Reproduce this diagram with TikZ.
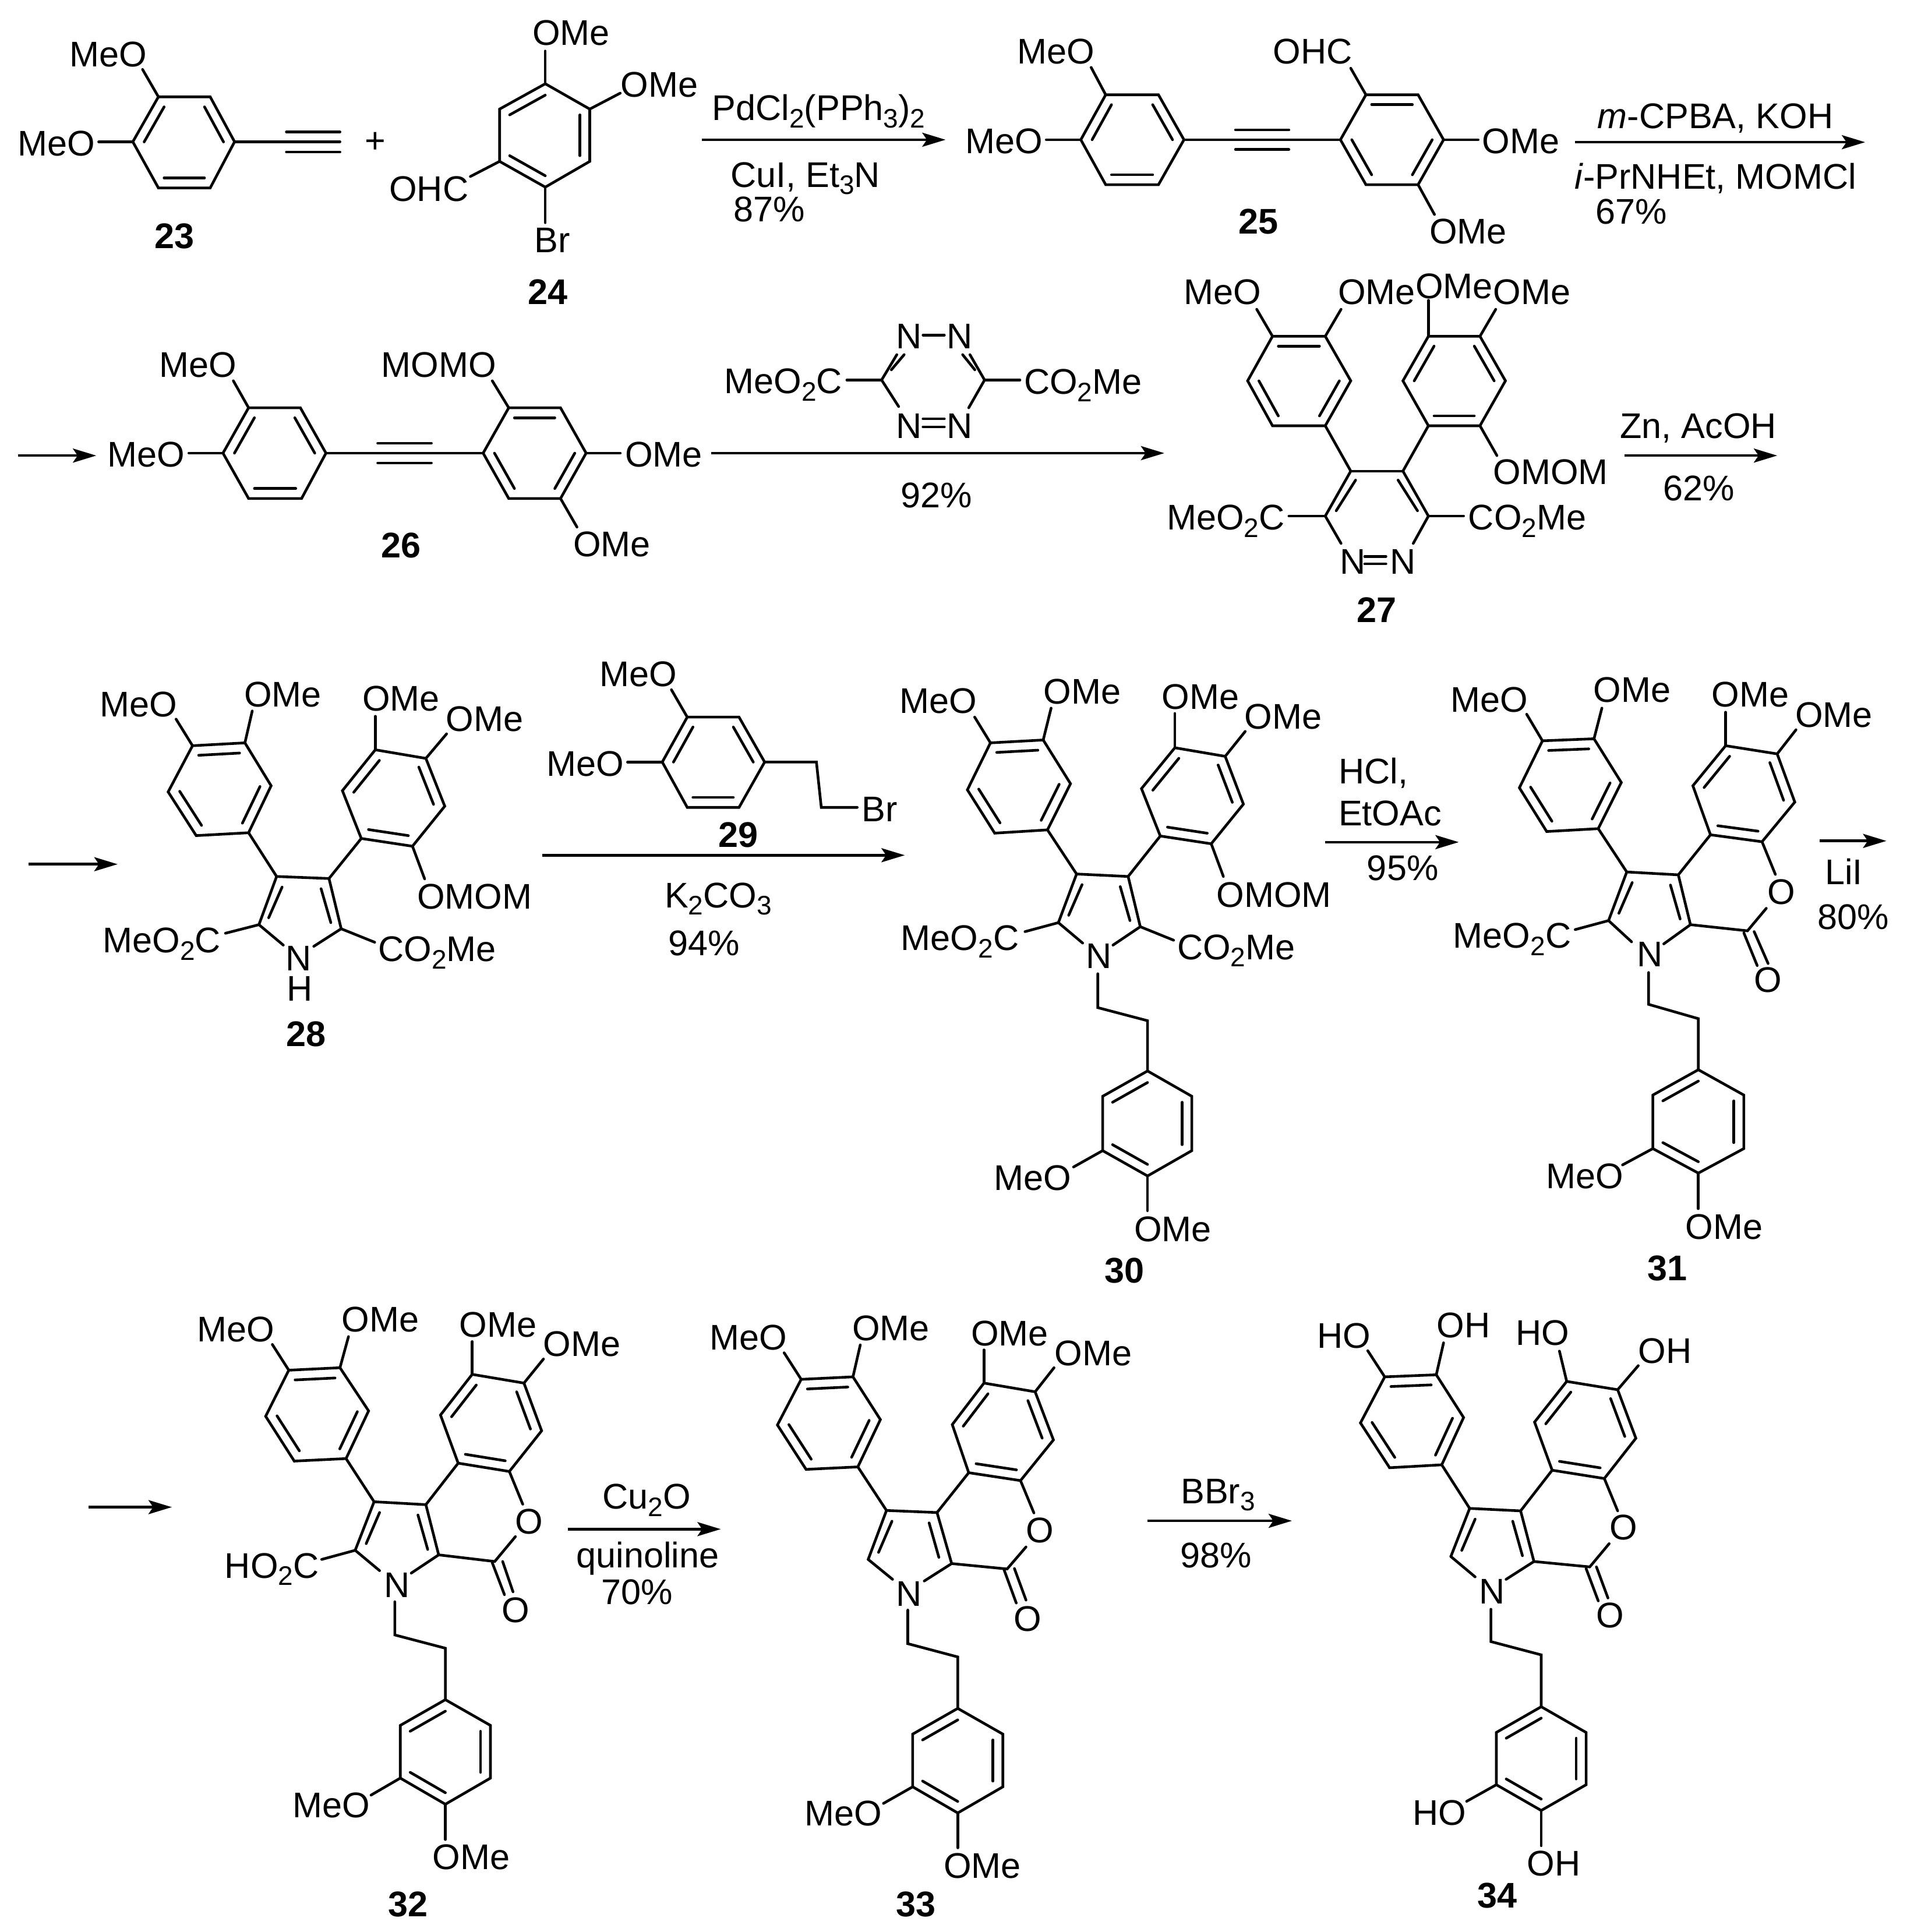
\documentclass[tikz,border=0pt]{standalone}
\usepackage{fontspec}
\setmainfont{Liberation Sans}
\usetikzlibrary{calc,arrows.meta}
\newcount\labn
\newcommand\sbs[1]{\raisebox{-6.3pt}{\fontsize{23}{23}\selectfont #1}}
\newcommand\lab[2]{\global\advance\labn by 1 \node[lbl] (n\the\labn) at (#1) {#2};}
\newcommand\B[2]{\draw[bond] (#1) -- (#2);}
\newcommand\Ar[2]{\draw[arr] (#1) -- (#2);}
\newcommand\Ring[7]{%
  \coordinate (R1) at (#1);\coordinate (R2) at (#2);\coordinate (R3) at (#3);
  \coordinate (R4) at (#4);\coordinate (R5) at (#5);\coordinate (R6) at (#6);
  \coordinate (RC) at ($(R1)!.5!(R4)$);
  \draw[bond] (R1)--(R2)--(R3)--(R4)--(R5)--(R6)--cycle;
  \foreach \pa/\pb in {#7} \draw[bond] ($(R\pa)!.22!(RC)$) -- ($(R\pb)!.22!(RC)$);
}
% inner lines of the two pyrrole double bonds, given the two beta carbons
\newcommand\PyrIn[2]{%
  \draw[bond] (#1) ++(9,26) -- ++(-22,75);
  \draw[bond] (#2) ++(-13,25) -- ++(16,83);
}
\tikzset{
  bond/.style={line width=2.3pt,line join=miter,line cap=round},
  arr/.style={line width=2.3pt,-{Stealth[length=20pt,width=12pt,inset=4pt]}},
  lbl/.style={anchor=base west,inner sep=0pt,xshift=-.8pt,font=\fontsize{30.6}{31}\selectfont},
  cA/.style={shift={(0pt,0pt)},x=.523pt,y=-.35075pt},
  cB/.style={shift={(820pt,0pt)},x=.5207pt,y=-.35075pt},
  cC/.style={shift={(0pt,-550pt)},x=.523pt,y=-.35075pt},
  cD/.style={shift={(820pt,-550pt)},x=.5207pt,y=-.35075pt},
  cE/.style={shift={(0pt,-1100pt)},x=.523pt,y=-.3562pt},
  cF/.style={shift={(820pt,-1100pt)},x=.5207pt,y=-.3562pt},
}
\begin{document}
\begin{tikzpicture}
\fill[white] (0pt,0pt) rectangle (1636.5pt,-1658.5pt);
\useasboundingbox (0pt,0pt) rectangle (1636.5pt,-1658.5pt);

%% ---------- crop A: 23, 24, 26, tetrazine
\begin{scope}[cA]
\Ring{260,237}{345,237}{385,347}{345,460}{260,460}{218,347}{6/1,2/3,4/5}
\lab{115,163}{MeO} \B{260,237}{234,170}
\lab{30,381}{MeO} \B{218,347}{162,347}
\B{385,347}{558,347} \B{470,323}{558,323} \B{470,372}{558,372}
\lab{255,608}{\textbf{23}}
\node[lbl,anchor=center] (plus) at (618,349) {+};
\Ring{895,205}{968,267}{968,395}{895,458}{820,395}{820,267}{6/1,2/3,4/5}
\lab{875,110}{OMe} \B{895,205}{895,125}
\lab{1020,238}{OMe} \B{968,267}{1018,228}
\lab{640,492}{OHC} \B{820,395}{772,432}
\lab{878,618}{Br} \B{895,458}{895,545}
\lab{868,745}{\textbf{24}}
\Ar{1152,342}{1552,342}
\lab{1170,295}{PdCl\sbs{2}(PPh\sbs{3})\sbs{2}}
\lab{1200,458}{CuI, Et\sbs{3}N}
\lab{1205,542}{87\%}
% 26
\Ar{30,1115}{158,1115}
\Ring{408,998}{493,998}{535,1109}{495,1220}{408,1220}{366,1109}{6/1,2/3,4/5}
\lab{178,1143}{MeO} \B{366,1109}{310,1109}
\lab{263,923}{MeO} \B{408,998}{383,932}
\B{535,1109}{793,1109} \B{620,1085}{708,1085} \B{620,1133}{708,1133}
\Ring{793,1109}{835,998}{920,998}{962,1109}{920,1220}{835,1220}{2/3,4/5,6/1}
\lab{627,923}{MOMO} \B{835,998}{808,932}
\lab{1027,1143}{OMe} \B{962,1109}{1018,1109}
\lab{942,1362}{OMe} \B{920,1220}{947,1290}
\lab{627,1365}{\textbf{26}}
% tetrazine
\lab{1472,853}{N} \lab{1555,853}{N} \B{1515,820}{1550,820}
\lab{1472,1072}{N} \lab{1555,1072}{N}
\B{1515,1025}{1550,1025} \B{1515,1045}{1550,1045}
\B{1447,930}{1472,868} \B{1463,905}{1484,868}
\B{1447,930}{1475,995}
\B{1616,930}{1592,868} \B{1600,905}{1580,868}
\B{1616,930}{1590,998}
\lab{1190,963}{MeO\sbs{2}C} \B{1390,930}{1447,930}
\lab{1682,965}{CO\sbs{2}Me} \B{1616,930}{1674,930}
\Ar{1167,1109}{1911,1109}
\lab{1480,1242}{92\%}
\end{scope}

%% ---------- crop B: 25, 27
\begin{scope}[cB]
\Ring{248,232}{335,232}{377,342}{335,452}{248,452}{207,342}{6/1,2/3,4/5}
\lab{103,156}{MeO} \B{248,232}{224,165}
\lab{18,376}{MeO} \B{207,342}{150,342}
\B{377,342}{635,342} \B{462,318}{550,318} \B{462,366}{550,366}
\Ring{635,342}{677,232}{763,232}{805,342}{763,452}{677,452}{2/3,4/5,6/1}
\lab{525,156}{OHC} \B{677,232}{652,167}
\lab{870,376}{OMe} \B{805,342}{862,342}
\lab{783,596}{OMe} \B{763,452}{790,525}
\lab{468,572}{\textbf{25}}
\Ar{1022,348}{1500,348}
\lab{1060,315}{\textit{m}-CPBA, KOH}
\lab{1022,463}{\textit{i}-PrNHEt, MOMCl}
\lab{1057,548}{67\%}
% 27
\Ring{523,823}{610,823}{652,932}{610,1042}{523,1042}{482,932}{1/2,3/4,5/6}
\lab{378,745}{MeO} \B{523,823}{497,757}
\lab{632,745}{OMe} \B{610,823}{636,757}
\Ring{780,823}{865,823}{907,932}{865,1042}{780,1042}{738,932}{2/3,4/5,6/1}
\lab{760,730}{OMe} \B{780,823}{780,735}
\lab{888,745}{OMe} \B{865,823}{891,757}
\lab{888,1185}{OMOM} \B{865,1042}{893,1115}
\B{610,1042}{652,1153} \B{780,1042}{738,1153} \B{652,1153}{738,1153}
\B{738,1153}{780,1263} \B{730,1175}{762,1250}
\B{652,1153}{610,1263} \B{660,1175}{628,1250}
\B{780,1263}{755,1330} \B{610,1263}{636,1330}
\lab{635,1405}{N} \lab{718,1405}{N}
\B{675,1362}{710,1362} \B{675,1380}{710,1380}
\lab{350,1297}{MeO\sbs{2}C} \B{550,1263}{610,1263}
\lab{847,1297}{CO\sbs{2}Me} \B{780,1263}{838,1263}
\lab{663,1523}{\textbf{27}}
\Ar{1103,1115}{1355,1115}
\lab{1097,1072}{Zn, AcOH}
\lab{1168,1225}{62\%}
\end{scope}

%% ---------- crop C: 28, 29
\begin{scope}[cC]
\Ar{47,547}{193,547}
\Ring{316,257}{402,250}{445,355}{408,470}{322,477}{276,370}{1/2,3/4,5/6}
\lab{165,186}{MeO} \B{316,257}{289,192}
\lab{402,162}{OMe} \B{402,250}{414,172}
\Ring{616,267}{699,288}{730,405}{677,503}{593,484}{562,367}{2/3,4/5,6/1}
\lab{596,172}{OMe} \B{616,267}{616,185}
\lab{733,222}{OMe} \B{699,288}{733,228}
\lab{686,657}{OMOM} \B{677,503}{697,583}
\B{408,470}{454,577} \B{593,484}{540,582} \B{454,577}{540,582}
\B{454,577}{425,695} \B{540,582}{560,705} \PyrIn{454,577}{540,582}
\B{425,695}{465,745} \B{560,705}{515,748}
\lab{470,808}{N} \lab{472,882}{H}
\lab{170,764}{MeO\sbs{2}C} \B{370,716}{425,695}
\lab{622,785}{CO\sbs{2}Me} \B{560,705}{615,738}
\lab{471,993}{\textbf{28}}
% 29
\Ring{1128,187}{1213,187}{1255,297}{1213,408}{1128,408}{1087,297}{6/1,2/3,4/5}
\lab{985,112}{MeO} \B{1128,187}{1102,120}
\lab{898,332}{MeO} \B{1087,297}{1030,297}
\draw[bond] (1255,297)--(1340,297)--(1348,408)--(1407,408);
\lab{1416,443}{Br}
\lab{1180,505}{\textbf{29}}
\Ar{890,525}{1485,525}
\lab{1092,653}{K\sbs{2}CO\sbs{3}}
\lab{1098,770}{94\%}
\lab{1478,178}{MeO}
\lab{1480,758}{MeO\sbs{2}C}
\end{scope}

%% ---------- crop D: 30, 31
\begin{scope}[cD]
\Ring{58,250}{145,243}{190,350}{152,463}{65,471}{20,365}{1/2,3/4,5/6}
\B{58,250}{32,187}
\lab{147,155}{OMe} \B{145,243}{158,165}
\Ring{362,262}{445,283}{475,400}{422,497}{338,478}{307,362}{2/3,4/5,6/1}
\lab{342,167}{OMe} \B{362,262}{362,178}
\lab{478,216}{OMe} \B{445,283}{478,222}
\lab{432,652}{OMOM} \B{422,497}{442,577}
\B{152,463}{200,571} \B{338,478}{285,577} \B{200,571}{285,577}
\B{200,571}{170,690} \B{285,577}{305,700} \PyrIn{200,571}{285,577}
\B{170,690}{210,740} \B{305,700}{260,745}
\lab{217,802}{N}
\B{115,712}{170,690}
\lab{367,780}{CO\sbs{2}Me} \B{305,700}{360,733}
\draw[bond] (235,815)--(235,898)--(317,930)--(317,1053);
\Ring{317,1053}{390,1115}{390,1248}{317,1310}{243,1248}{243,1115}{6/1,2/3,4/5}
\lab{65,1345}{MeO} \B{243,1248}{195,1288}
\lab{296,1470}{OMe} \B{317,1310}{317,1395}
\lab{247,1571}{\textbf{30}}
\Ar{610,493}{830,493}
\lab{633,350}{HCl,}
\lab{633,452}{EtOAc}
\lab{680,587}{95\%}
% 31
\Ring{968,245}{1053,240}{1098,347}{1060,460}{975,467}{930,360}{1/2,3/4,5/6}
\lab{818,175}{MeO} \B{968,245}{942,180}
\lab{1053,150}{OMe} \B{1053,240}{1066,165}
\Ring{1270,257}{1355,277}{1384,395}{1330,492}{1245,475}{1216,355}{2/3,4/5,6/1}
\lab{1248,162}{OMe} \B{1270,257}{1270,175}
\lab{1386,211}{OMe} \B{1355,277}{1386,218}
\B{1060,460}{1107,566} \B{1245,475}{1192,573} \B{1107,566}{1192,573}
\B{1107,566}{1077,685} \B{1192,573}{1212,695} \PyrIn{1107,566}{1192,573}
\B{1077,685}{1115,737} \B{1212,695}{1168,742}
\lab{1125,797}{N}
\lab{822,752}{MeO\sbs{2}C} \B{1022,707}{1077,685}
\B{1212,695}{1306,710} \B{1306,710}{1337,655}
\lab{1340,645}{O} \B{1330,492}{1352,572}
\B{1300,715}{1322,795} \B{1317,712}{1340,790}
\lab{1318,860}{O}
\draw[bond] (1143,812)--(1143,890)--(1225,925)--(1225,1050);
\Ring{1225,1050}{1300,1112}{1300,1243}{1225,1303}{1150,1243}{1150,1112}{6/1,2/3,4/5}
\lab{975,1340}{MeO} \B{1150,1243}{1100,1283}
\lab{1205,1465}{OMe} \B{1225,1303}{1225,1390}
\lab{1142,1566}{\textbf{31}}
\Ar{1425,490}{1535,490}
\lab{1435,597}{LiI}
\lab{1423,707}{80\%}
\end{scope}

%% ---------- crop E: 32, 33
\begin{scope}[cE]
\Ar{145,544}{282,544}
\Ring{474,214}{558,208}{605,312}{568,427}{483,433}{436,325}{1/2,3/4,5/6}
\lab{325,145}{MeO} \B{474,214}{447,152}
\lab{562,122}{OMe} \B{558,208}{572,133}
\Ring{775,224}{860,245}{889,360}{836,458}{752,438}{723,322}{2/3,4/5,6/1}
\lab{755,134}{OMe} \B{775,224}{775,145}
\lab{893,180}{OMe} \B{860,245}{892,187}
\B{568,427}{614,531} \B{752,438}{699,538} \B{614,531}{699,538}
\B{614,531}{583,648} \B{699,538}{720,659} \PyrIn{614,531}{699,538}
\B{583,648}{623,697} \B{720,659}{675,703}
\lab{632,762}{N}
\lab{370,715}{HO\sbs{2}C} \B{528,670}{583,648}
\B{720,659}{812,675} \B{812,675}{846,615}
\lab{847,608}{O} \B{836,458}{858,537}
\B{808,678}{828,755} \B{825,675}{842,748}
\lab{825,822}{O}
\draw[bond] (648,772)--(648,852)--(731,884)--(731,1008);
\Ring{731,1008}{805,1070}{805,1197}{731,1260}{657,1197}{657,1070}{6/1,2/3,4/5}
\lab{482,1292}{MeO} \B{657,1197}{609,1238}
\lab{711,1417}{OMe} \B{731,1260}{731,1345}
\lab{638,1530}{\textbf{32}}
\Ar{932,597}{1183,597}
\lab{990,548}{Cu\sbs{2}O}
\lab{947,690}{quinoline}
\lab{988,778}{70\%}
% 33
\Ring{1315,236}{1400,230}{1445,333}{1408,447}{1323,453}{1276,346}{1/2,3/4,5/6}
\lab{1166,165}{MeO} \B{1315,236}{1287,172}
\lab{1400,142}{OMe} \B{1400,230}{1412,153}
\Ring{1615,245}{1699,266}{1729,382}{1675,480}{1590,461}{1563,345}{2/3,4/5,6/1}
\lab{1595,155}{OMe} \B{1615,245}{1615,165}
\lab{1732,203}{OMe} \B{1699,266}{1730,208}
\B{1408,447}{1455,552} \B{1590,461}{1538,557} \B{1455,552}{1538,557}
\B{1455,552}{1425,670} \B{1538,557}{1562,680} \PyrIn{1455,552}{1538,557}
\B{1425,670}{1465,718} \B{1562,680}{1517,722}
\lab{1472,782}{N}
\B{1562,680}{1653,693} \B{1653,693}{1684,640}
\lab{1685,630}{O} \B{1675,480}{1697,558}
\B{1648,695}{1668,775} \B{1665,692}{1684,768}
\lab{1665,843}{O}
\draw[bond] (1490,792)--(1490,873)--(1572,905)--(1572,1029);
\Ring{1572,1029}{1646,1091}{1646,1218}{1572,1281}{1498,1218}{1498,1091}{6/1,2/3,4/5}
\lab{1322,1312}{MeO} \B{1498,1218}{1450,1258}
\lab{1550,1438}{OMe} \B{1572,1281}{1572,1365}
\lab{1472,1530}{\textbf{33}}
\end{scope}

%% ---------- crop F: 34
\begin{scope}[cF]
\Ar{317,577}{555,577}
\lab{373,535}{BBr\sbs{3}}
\lab{372,690}{98\%}
\Ring{708,230}{793,225}{838,328}{802,442}{716,449}{668,341}{1/2,3/4,5/6}
\lab{598,160}{HO} \B{708,230}{680,167}
\lab{795,136}{OH} \B{793,225}{805,148}
\Ring{1008,241}{1092,261}{1122,378}{1070,475}{984,455}{955,339}{2/3,4/5,6/1}
\lab{925,153}{HO} \B{1008,241}{996,168}
\lab{1127,197}{OH} \B{1092,261}{1126,203}
\B{802,442}{848,547} \B{984,455}{932,553} \B{848,547}{932,553}
\B{848,547}{817,663} \B{932,553}{954,675} \PyrIn{848,547}{932,553}
\B{817,663}{857,712} \B{954,675}{908,718}
\lab{865,777}{N}
\B{954,675}{1046,688} \B{1046,688}{1078,632}
\lab{1080,623}{O} \B{1070,475}{1092,553}
\B{1040,692}{1060,770} \B{1057,688}{1076,763}
\lab{1058,835}{O}
\draw[bond] (883,790)--(883,868)--(966,900)--(966,1025);
\Ring{966,1025}{1040,1087}{1040,1213}{966,1275}{892,1213}{892,1087}{6/1,2/3,4/5}
\lab{755,1310}{HO} \B{892,1213}{843,1253}
\lab{944,1433}{OH} \B{966,1275}{966,1360}
\lab{862,1510}{\textbf{34}}
\end{scope}
\end{tikzpicture}
\end{document}
